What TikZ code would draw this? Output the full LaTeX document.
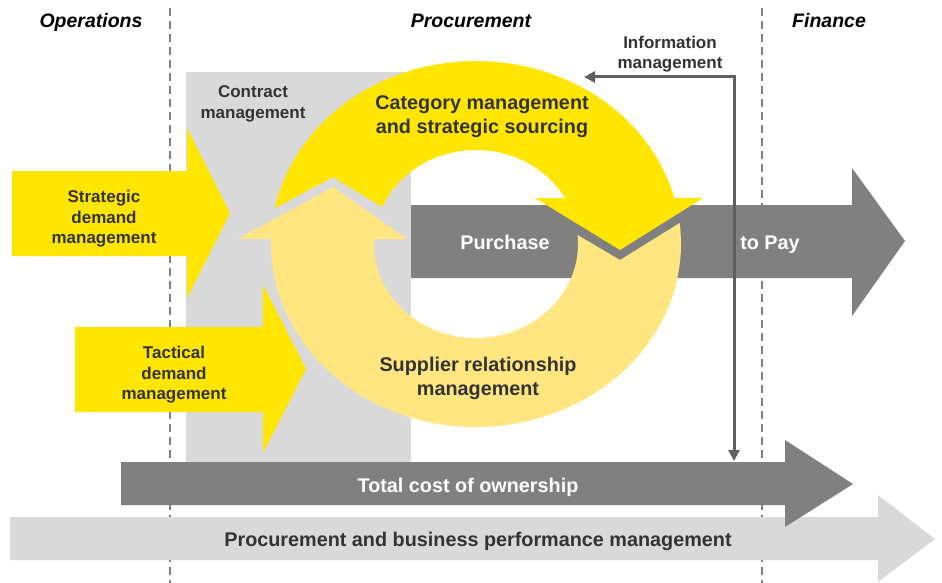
\documentclass[tikz,border=0pt]{standalone}
\usepackage{fontspec}
\setmainfont{Liberation Sans}
\usetikzlibrary{arrows.meta}
\definecolor{eyyellow}{HTML}{FFE600}
\definecolor{paleyellow}{HTML}{FFE680}
\definecolor{boxgray}{HTML}{D9D9D9}
\definecolor{bargray}{HTML}{808080}
\definecolor{linegray}{HTML}{5F5F5F}
\definecolor{textgray}{HTML}{333333}
\tikzstyle{bigtext} = [font=\bfseries\fontsize{19.8}{24}\selectfont,
    text=textgray, align=center, inner sep=0pt]
\tikzstyle{smalltext} = [font=\bfseries\fontsize{17}{20.5}\selectfont,
    text=textgray, align=center, inner sep=0pt]
\tikzstyle{whitetext} = [bigtext, text=white, anchor=base]
\tikzstyle{header} = [font=\bfseries\itshape\fontsize{19.5}{23}\selectfont,
    text=black, inner sep=0pt, anchor=base]
\tikzstyle{divider} = [draw=bargray, line width=1.8pt, dash pattern=on 8pt off 5pt]
\tikzstyle{infoline} = [draw=linegray, line width=3pt,
    {Triangle[length=11pt,width=11pt]}-{Triangle[length=11pt,width=11pt]}]

\begin{document}
\begin{tikzpicture}[x=1pt, y=-1pt]
\useasboundingbox (0,0) rectangle (942,583);

% column dividers
\draw[divider] (170,8) -- (170,583);
\draw[divider] (762,8) -- (762,583);

\node[header] (ops) at (91,28) {Operations};
\node[header] (proc) at (471,28) {Procurement};
\node[header] (fin) at (829,28) {Finance};

% contract management area
\fill[boxgray] (186,72) rectangle (411,462);
\node[smalltext] (contract) at (253,104) {Contract\\management};

% demand arrows
\fill[eyyellow] (12,171) -- (187,171) -- (187,128) -- (230,213) -- (187,298)
    -- (187,256) -- (12,256) -- cycle;
\node[smalltext] (strategic) at (104,219) {Strategic\\demand\\management};

\fill[eyyellow] (75,327) -- (263,327) -- (263,285) -- (306,369) -- (263,453)
    -- (263,412) -- (75,412) -- cycle;
\node[smalltext] (tactical) at (174,375) {Tactical\\demand\\management};

% purchase to pay
\fill[bargray] (411,205) -- (852,205) -- (852,168) -- (905,241) -- (852,316)
    -- (852,278) -- (411,278) -- cycle;
\node[whitetext] (purchase) at (505,249) {Purchase};
\node[whitetext] (topay) at (770,249) {to Pay};

% supplier relationship management (lower ring arrow)
\fill[paleyellow] plot[domain=-6.6:181.6, samples=80] ({476+205*cos(\x)},{244+183*sin(\x)})
    -- (238,239) -- (333,187) -- (407,239)
    -- plot[domain=183:-5.5, samples=80] ({476+102*cos(\x)},{244+94*sin(\x)})
    -- (620,260) -- cycle;
\node[bigtext] (srm) at (478,378) {Supplier relationship\\management};

% category management (upper ring arrow)
\fill[eyyellow] plot[domain=191.3:345.4, samples=80] ({476+205*cos(\x)},{244+183*sin(\x)})
    -- (703,198) -- (620,250) -- (535,198)
    -- plot[domain=330.7:203.2, samples=80] ({476+102*cos(\x)},{244+94*sin(\x)})
    -- (333,177) -- cycle;
\node[bigtext] (category) at (482,117) {Category management\\and strategic sourcing};

% performance and cost arrows
\fill[boxgray] (10,517) -- (878,517) -- (878,495) -- (935,539) -- (878,582)
    -- (878,560) -- (10,560) -- cycle;
\node[bigtext] (perf) at (478,541) {Procurement and business performance management};

\fill[bargray] (121,462) -- (785,462) -- (785,440) -- (853,484) -- (785,527)
    -- (785,505) -- (121,505) -- cycle;
\node[whitetext] (tco) at (468,492) {Total cost of ownership};

% information management
\coordinate (info-ring) at (584,77);
\coordinate (info-tco) at (734,461);
\draw[infoline] (info-ring) -| (info-tco);
\node[smalltext] (info) at (670,54) {Information\\management};

\end{tikzpicture}
\end{document}
